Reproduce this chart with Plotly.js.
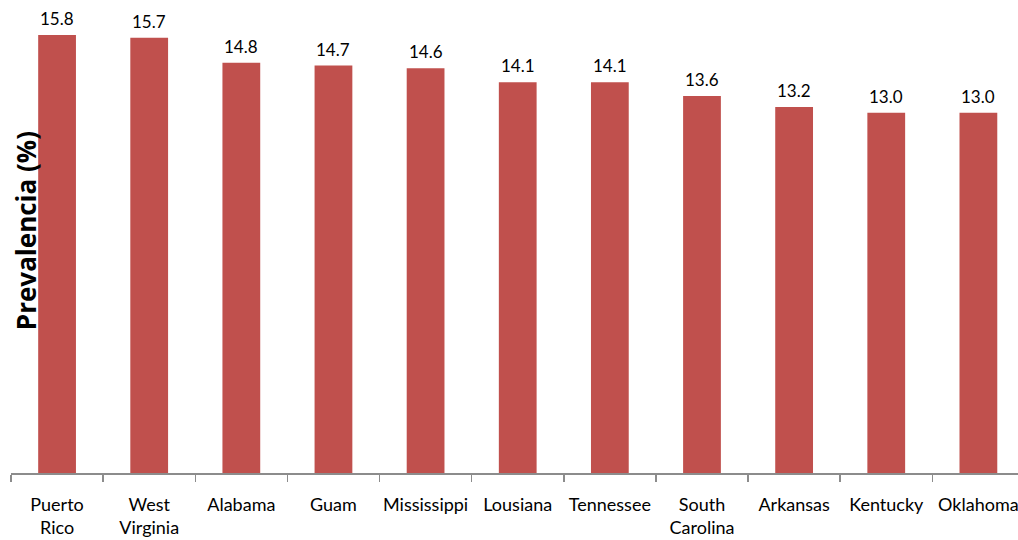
<!DOCTYPE html>
<html>
<head>
<meta charset="utf-8">
<script src="https://cdn.plot.ly/plotly-3.0.1.min.js"></script>
<style>html,body{margin:0;padding:0;background:#fff;overflow:hidden}#chart{width:1018px;height:540px}</style>
</head>
<body>
<div id="chart"></div>
<script>
const categories = ["Puerto<br>Rico", "West<br>Virginia", "Alabama", "Guam", "Mississippi", "Lousiana", "Tennessee", "South<br>Carolina", "Arkansas", "Kentucky", "Oklahoma"];
const prevalence = [15.8, 15.7, 14.8, 14.7, 14.6, 14.1, 14.1, 13.6, 13.2, 13.0, 13.0];
const yTitle = "Prevalencia (%)";

const font = "Lato, 'Open Sans', sans-serif";

const trace = {
  type: "bar",
  x: categories,
  y: prevalence,
  marker: {color: "#C0504D"},
  hoverinfo: "skip"
};

const annotations = prevalence.map((v, i) => ({
  x: categories[i], y: v, xref: "x", yref: "y",
  text: v.toFixed(1), showarrow: false,
  yanchor: "bottom", yshift: 4,
  font: {family: font, size: 17, color: "#000"}
}));
annotations.push({
  xref: "paper", yref: "paper", x: 0.015, y: 0.517,
  text: "<b>" + yTitle + "</b>", showarrow: false, textangle: -90,
  xanchor: "center", yanchor: "middle",
  font: {family: "'Open Sans', sans-serif", size: 26, color: "#000"}
});

const layout = {
  width: 1018, height: 540,
  margin: {l: 11, r: 0, t: 5, b: 67},
  paper_bgcolor: "#fff", plot_bgcolor: "#fff",
  showlegend: false,
  bargap: 0.59,
  xaxis: {
    type: "category",
    range: [-0.5, 10.43],
    tickson: "boundaries",
    tickangle: 0,
    ticks: "outside", ticklen: 7, tickwidth: 1.5, tickcolor: "#8c8c8c",
    showline: true, linecolor: "#8c8c8c", linewidth: 2,
    showgrid: false, zeroline: false,
    ticklabelstandoff: 14,
    tickfont: {family: font, size: 18, color: "#000"},
    fixedrange: true
  },
  yaxis: {
    range: [0, 468 / 27.72],
    showticklabels: false, showgrid: false, zeroline: false,
    showline: false, ticks: "", fixedrange: true
  },
  annotations: annotations
};

Plotly.newPlot("chart", [trace], layout, {displayModeBar: false, staticPlot: true});
</script>
</body>
</html>
